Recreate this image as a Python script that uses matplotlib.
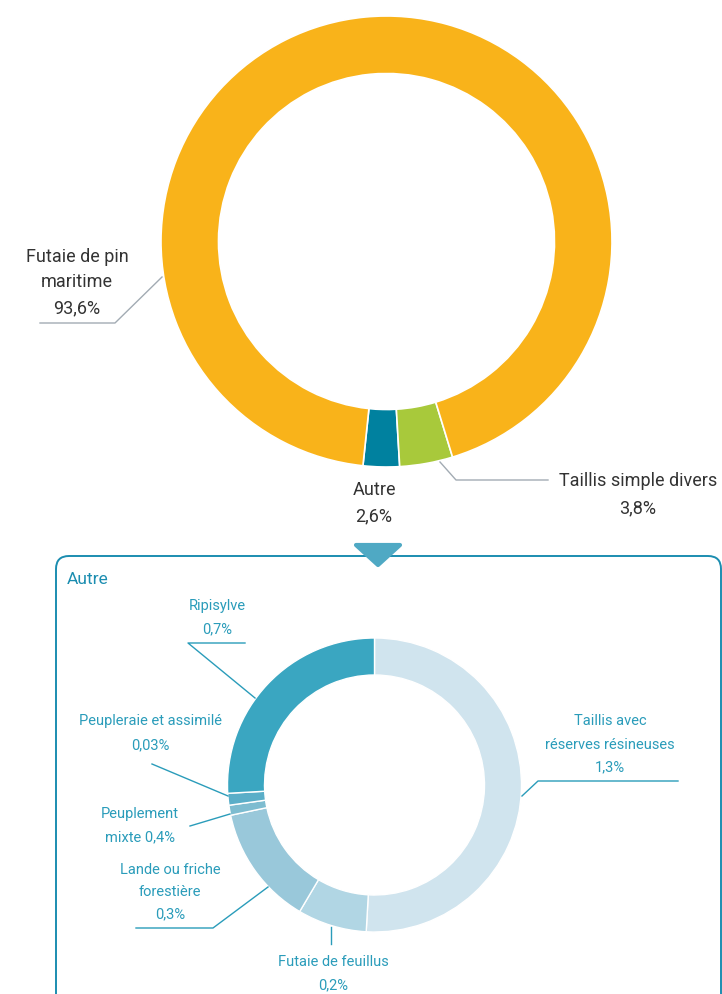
import matplotlib.pyplot as plt
from matplotlib.patches import FancyBboxPatch, Polygon

W, H = 722, 995

# top donut
top_labels = ['Autre', 'Taillis simple divers', 'Futaie de pin maritime']
top_values = [2.6, 3.8, 93.6]
top_colors = ['#00819f', '#a8c93b', '#f9b31a']

# "Autre" breakdown (slice shares as drawn, labels as printed)
autre_labels = ['Taillis avec réserves résineuses', 'Futaie de feuillus',
                'Lande ou friche forestière', 'Peuplement mixte',
                'Peupleraie et assimilé', 'Ripisylve']
autre_shares = [50.9, 7.6, 13.2, 1.1, 1.3, 25.9]
autre_pct = ['1,3%', '0,2%', '0,3%', '0,4%', '0,03%', '0,7%']
autre_colors = ['#d0e4ee', '#b1d6e4', '#99c8da', '#7dbcd0', '#5aaec8', '#3aa6c1']

FONT = ['Roboto', 'DejaVu Sans']
DARK = '#333333'
TEAL = '#2a9cba'
BOX = '#1b8db0'
GREY = '#a2abb3'


def Y(y):
    return H - y


fig = plt.figure(figsize=(W / 100, H / 100), dpi=100)
ax = fig.add_axes([0, 0, 1, 1])

ax.pie(top_values, colors=top_colors, startangle=264, counterclock=True,
       center=(386.5, Y(242.5)), radius=225.5,
       wedgeprops=dict(width=57.5, edgecolor='white', linewidth=1.2))

ax.pie(autre_shares, colors=autre_colors, startangle=90, counterclock=False,
       center=(374.5, Y(786)), radius=147,
       wedgeprops=dict(width=37, edgecolor='white', linewidth=1.0))

ax.set_xlim(0, W)
ax.set_ylim(0, H)
ax.set_aspect('equal')
ax.axis('off')


def txt(x, y, s, color, size, ha='center'):
    ax.text(x, Y(y), s, color=color, fontsize=size, ha=ha, va='center', family=FONT)


# top labels
txt(77, 257, 'Futaie de pin', DARK, 13)
txt(77, 282, 'maritime', DARK, 13)
txt(77, 308, '93,6%', DARK, 13)
ax.plot([40, 115, 162], [Y(324), Y(324), Y(278)], color=GREY, lw=1)

txt(638, 481, 'Taillis simple divers', DARK, 13)
txt(638, 508, '3,8%', DARK, 13)
ax.plot([440, 456, 548], [Y(463), Y(481), Y(481)], color=GREY, lw=1)

txt(374, 490, 'Autre', DARK, 13)
txt(374, 516, '2,6%', DARK, 13)

# box and arrow
box = FancyBboxPatch((56, Y(1030)), 665, 1030 - 557,
                     boxstyle='round,pad=0,rounding_size=13',
                     facecolor='none', edgecolor=BOX, lw=1.4)
ax.add_patch(box)
tri = Polygon([(356, Y(546)), (400, Y(546)), (378, Y(566))], closed=True,
              facecolor='#4fa9c4', edgecolor='#4fa9c4', lw=3, joinstyle='round')
ax.add_patch(tri)
txt(67, 580, 'Autre', BOX, 12.5, ha='left')

# bottom labels
SZ = 10.5
txt(217, 606, 'Ripisylve', TEAL, SZ)
txt(217, 629, autre_pct[5], TEAL, SZ)
ax.plot([245, 188, 255], [Y(644), Y(644), Y(699)], color=TEAL, lw=1)

txt(150, 721, 'Peupleraie et assimilé', TEAL, SZ)
txt(150, 745, autre_pct[4], TEAL, SZ)
ax.plot([152, 228], [Y(765), Y(797)], color=TEAL, lw=1)

txt(140, 814, 'Peuplement', TEAL, SZ)
txt(140, 837, 'mixte ' + autre_pct[3], TEAL, SZ)
ax.plot([190, 230], [Y(827), Y(815)], color=TEAL, lw=1)

txt(170, 870, 'Lande ou friche', TEAL, SZ)
txt(170, 892, 'forestière', TEAL, SZ)
txt(170, 914, autre_pct[2], TEAL, SZ)
ax.plot([136, 213, 268], [Y(929), Y(929), Y(888)], color=TEAL, lw=1)

txt(333, 962, 'Futaie de feuillus', TEAL, SZ)
txt(333, 985, autre_pct[1], TEAL, SZ)
ax.plot([331, 331], [Y(928), Y(945)], color=TEAL, lw=1)

txt(610, 721, 'Taillis avec', TEAL, SZ)
txt(610, 745, 'réserves résineuses', TEAL, SZ)
txt(610, 767, autre_pct[0], TEAL, SZ)
ax.plot([678, 538, 522], [Y(782), Y(782), Y(797)], color=TEAL, lw=1)

fig.savefig('out.png', dpi=100)
